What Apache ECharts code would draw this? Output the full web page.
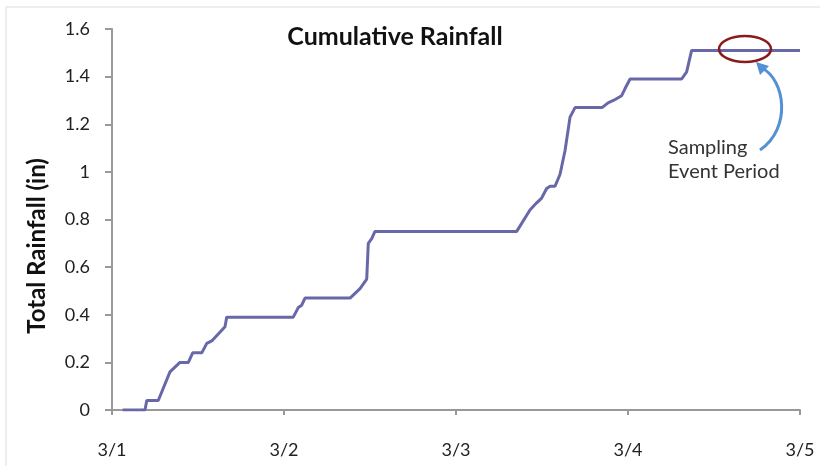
<!DOCTYPE html>
<html><head><meta charset="utf-8">
<script src="https://cdn.jsdelivr.net/npm/echarts@6/dist/echarts.min.js"></script>
<style>html,body{margin:0;padding:0;background:#fff}#c{width:820px;height:466px}</style>
</head><body><div id="c"></div>
<script>
const dayLabels = ['3/1','3/2','3/3','3/4','3/5'];
const yTicks = [0,0.2,0.4,0.6,0.8,1,1.2,1.4,1.6];
const dayOffset = [0.062,0.192,0.202,0.269,0.337,0.395,0.444,0.469,0.522,0.551,0.580,0.657,0.667,
  1.054,1.083,1.103,1.122,1.384,1.442,1.481,1.490,1.510,1.529,
  2.353,2.430,2.469,2.498,2.527,2.547,2.576,2.605,2.634,2.663,2.692,2.849,2.884,2.915,2.963,2.983,3.012,
  3.312,3.341,3.370,4.0];
const rainfall = [0,0,0.04,0.04,0.16,0.20,0.20,0.24,0.24,0.28,0.29,0.35,0.39,
  0.39,0.43,0.44,0.47,0.47,0.51,0.55,0.70,0.72,0.75,
  0.75,0.84,0.87,0.89,0.93,0.94,0.94,0.99,1.09,1.23,1.27,1.27,1.29,1.30,1.32,1.35,1.39,
  1.39,1.42,1.51,1.51];

const font = 'Lato, "Open Sans", sans-serif';
const chart = echarts.init(document.getElementById('c'));
chart.setOption({
  animation:false,
  backgroundColor:'#fff',
  title:{text:'Cumulative Rainfall',left:390,top:19,textAlign:'center',
    textStyle:{fontFamily:font,fontSize:25,fontWeight:'bold',color:'#111'}},
  grid:{left:112,right:20,top:29,bottom:56},
  xAxis:{type:'value',min:0,max:4,interval:1,
    axisLine:{lineStyle:{color:'#999',width:2}},
    axisTick:{show:true,length:5,lineStyle:{color:'#999',width:2}},
    splitLine:{show:false},
    axisLabel:{margin:31,fontFamily:font,fontSize:18,color:'#222',formatter:v=>dayLabels[Math.round(v)]}},
  yAxis:{type:'value',min:0,max:1.6,interval:0.2,
    axisLine:{show:true,lineStyle:{color:'#999',width:2}},
    axisTick:{show:true,length:7,lineStyle:{color:'#999',width:2}},
    splitLine:{show:false},
    axisLabel:{margin:22,fontFamily:font,fontSize:18,color:'#222',
      formatter:v=>{const t=yTicks.find(x=>Math.abs(x-v)<1e-6);return String(t!==undefined?t:v);}}},
  series:[{type:'line',data:dayOffset.map((d,i)=>[d,rainfall[i]]),
    showSymbol:false,symbol:'none',lineStyle:{color:'#6868a8',width:3},z:3}],
  graphic:[
    {type:'rect',shape:{x:6,y:7,width:830,height:480},style:{fill:'none',stroke:'#dcdcdc',lineWidth:1},z:0},
    {type:'text',x:37,y:246,rotation:Math.PI/2,
      style:{text:'Total Rainfall (in)',font:'bold 24px '+font,fill:'#111',align:'center',verticalAlign:'middle'},z:10},
    {type:'ellipse',shape:{cx:745,cy:49,rx:26,ry:13},style:{fill:'none',stroke:'#8b1a1a',lineWidth:2.5},z:10},
    {type:'bezierCurve',shape:{x1:760,y1:150,cpx1:792,cpy1:128,cpx2:785,cpy2:80,x2:762,y2:68},
      style:{stroke:'#5390d4',lineWidth:3,fill:'none'},z:10},
    {type:'polygon',shape:{points:[[756,62],[769,66],[760,75]]},style:{fill:'#5390d4'},z:10},
    {type:'text',left:668,top:138,style:{text:'Sampling',font:'20px '+font,fill:'#333'},z:10},
    {type:'text',left:668,top:162,style:{text:'Event Period',font:'20px '+font,fill:'#333'},z:10}
  ]
});
</script></body></html>
